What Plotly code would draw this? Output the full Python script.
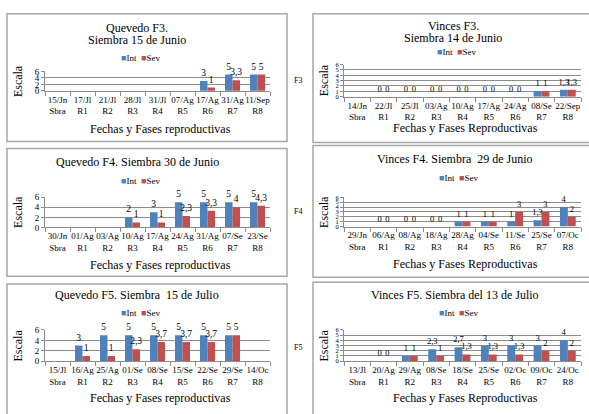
import plotly.graph_objects as go

W, H = 589, 414
INT_COLOR = "#4F81BD"
SEV_COLOR = "#C0504D"
GRID = "#8C8C8C"
FONT = "Liberation Serif"

phases = ["Sbra", "R1", "R2", "R3", "R4", "R5", "R6", "R7", "R8"]

# Quevedo F3 - siembra 15 de junio
q3_dates = ["15/Jn", "17/Jl", "21/Jl", "28/Jl", "31/Jl", "07/Ag", "17/Ag", "31/Ag", "11/Sep"]
q3_int = [None, None, None, None, None, None, 3, 5, 5]
q3_sev = [None, None, None, None, None, None, 1, 3.3, 5]

# Vinces F3 - siembra 14 de junio
v3_dates = ["14/Jn", "22/Jl", "25/Jl", "03/Ag", "10/Ag", "17/Ag", "24/Ag", "08/Se", "22/Sep"]
v3_int = [None, 0, 0, 0, 0, 0, 0, 1, 1.3]
v3_sev = [None, 0, 0, 0, 0, 0, 0, 1, 1.3]

# Quevedo F4 - siembra 30 de junio
q4_dates = ["30/Jn", "01/Ag", "03/Ag", "10/Ag", "17/Ag", "24/Ag", "31/Ag", "07/Se", "23/Se"]
q4_int = [None, None, None, 2, 3, 5, 5, 5, 5]
q4_sev = [None, None, None, 1, 1, 2.3, 3.3, 4, 4.3]

# Vinces F4 - siembra 29 de junio
v4_dates = ["29/Jn", "06/Ag", "08/Ag", "18/Ag", "28/Ag", "04/Se", "11/Se", "25/Se", "07/Oc"]
v4_int = [None, 0, 0, 0, 1, 1, 1, 1.3, 4]
v4_sev = [None, 0, 0, 0, 1, 1, 3, 3, 2]

# Quevedo F5 - siembra 15 de julio
q5_dates = ["15/Jl", "16/Ag", "25/Ag", "01/Se", "08/Se", "15/Se", "22/Se", "29/Se", "14/Oc"]
q5_int = [None, 3, 5, 5, 5, 5, 5, 5, None]
q5_sev = [None, 1, 1, 2.3, 3.7, 3.7, 3.7, 5, None]

# Vinces F5 - siembra del 13 de julio
v5_dates = ["13/Jl", "20/Ag", "29/Ag", "08/Se", "18/Se", "25/Se", "02/Oc", "09/Oc", "24/Oc"]
v5_int = [None, 0, 1, 2.3, 2.7, 3, 3, 3, 4]
v5_sev = [None, 0, 1, 1, 1.3, 1.3, 1.3, 2, 2]

row_labels = ["F3", "F4", "F5"]


def fmt(v):
    if v is None:
        return ""
    s = ("%g" % v)
    return s.replace(".", ",")


def px_x(x):
    return x / W


def px_y(y):
    return 1 - y / H


# Panel layout (pixel geometry of each chart); titles are lists of (text, y)
panels = [
    dict(title=[("Quevedo F3.", 24), ("Siembra 15 de Junio", 36)], dates=q3_dates,
         vi=q3_int, vs=q3_sev, xtitle="Fechas y Fases reproductivas",
         x0=45, x1=270, ytop=68, ybot=88, tx=137, ly=54, xty=127, ey=78,
         step=2, tickfs=9, lblfs=9.5, box=(7, 9, 287, 140)),
    dict(title=[("Vinces F3.", 22), ("Siembra 14 de Junio", 34)], dates=v3_dates,
         vi=v3_int, vs=v3_sev, xtitle="Fechas y Fases Reproductivas",
         x0=344, x1=581, ytop=61, ybot=94, tx=453, ly=48, xty=126, ey=77,
         step=1, tickfs=6.5, lblfs=8.5, box=(313, 9, 596, 141)),
    dict(title=[("Quevedo F4. Siembra 30 de Junio", 161)], dates=q4_dates,
         vi=q4_int, vs=q4_sev, xtitle="Fechas y Fases reproductivas",
         x0=45, x1=270, ytop=197, ybot=228, tx=137, ly=180, xty=266, ey=212,
         step=2, tickfs=9, lblfs=9.5, box=(7, 147, 287, 278)),
    dict(title=[("Vinces F4. Siembra  29 de Junio", 158)], dates=v4_dates,
         vi=v4_int, vs=v4_sev, xtitle="Fechas y Fases Reproductivas",
         x0=344, x1=581, ytop=197, ybot=227, tx=455, ly=177, xty=265, ey=212,
         step=1, tickfs=6.5, lblfs=8.5, box=(313, 144, 596, 279)),
    dict(title=[("Quevedo F5. Siembra  15 de Julio", 297)], dates=q5_dates,
         vi=q5_int, vs=q5_sev, xtitle="Fechas y Fases reproductivas",
         x0=45, x1=270, ytop=333, ybot=365, tx=137, ly=316, xty=403, ey=349,
         step=2, tickfs=9, lblfs=9.5, box=(7, 286, 287, 420)),
    dict(title=[("Vinces F5. Siembra del 13 de Julio", 297)], dates=v5_dates,
         vi=v5_int, vs=v5_sev, xtitle="Fechas y Fases Reproductivas",
         x0=344, x1=581, ytop=333, ybot=365, tx=455, ly=316, xty=403, ey=349,
         step=1, tickfs=6.5, lblfs=8.5, box=(313, 284, 596, 420)),
]

fig = go.Figure()
annotations = []
shapes = []
layout_axes = {}

for i, p in enumerate(panels, start=1):
    xa = "x" if i == 1 else f"x{i}"
    ya = "y" if i == 1 else f"y{i}"
    cats = [f"{d}<br>{ph}" for d, ph in zip(p["dates"], phases)]
    for name, vals, color in (("Int", p["vi"], INT_COLOR), ("Sev", p["vs"], SEV_COLOR)):
        fig.add_trace(go.Bar(
            x=cats, y=vals, name=name, marker=dict(color=color, line=dict(width=0)),
            text=[fmt(v) for v in vals], textposition="outside", constraintext="none",
            textfont=dict(family=FONT, size=p["lblfs"], color="black"),
            cliponaxis=False, showlegend=False, xaxis=xa, yaxis=ya,
        ))
    kx = "xaxis" if i == 1 else f"xaxis{i}"
    ky = "yaxis" if i == 1 else f"yaxis{i}"
    layout_axes[kx] = dict(
        domain=[px_x(p["x0"]), px_x(p["x1"])], anchor=ya, type="category",
        range=[-0.5, 8.5], showline=True, linecolor=GRID, linewidth=1,
        ticks="outside", tickson="boundaries", ticklen=4, tickcolor=GRID,
        showgrid=False, tickfont=dict(family=FONT, size=9, color="black"),
        tickangle=0, fixedrange=True,
    )
    layout_axes[ky] = dict(
        domain=[px_y(p["ybot"]), px_y(p["ytop"])], anchor=xa, range=[0, 6],
        tickmode="array", tickvals=list(range(0, 7, p["step"])),
        showgrid=True, gridcolor=GRID, gridwidth=1, zeroline=False,
        showline=True, linecolor=GRID, linewidth=1, ticks="outside",
        ticklen=3, tickcolor=GRID, tickfont=dict(family=FONT, size=p["tickfs"], color="black"),
        fixedrange=True,
    )
    # chart frame
    bx0, by0, bx1, by1 = p["box"]
    shapes.append(dict(type="rect", xref="paper", yref="paper",
                       x0=px_x(bx0), x1=px_x(bx1), y0=px_y(by1), y1=px_y(by0),
                       line=dict(color="#A6A6A6", width=1.5), fillcolor="rgba(0,0,0,0)",
                       layer="below"))
    # title lines
    for line, ty in p["title"]:
        annotations.append(dict(text=line, x=px_x(p["tx"]), y=px_y(ty),
                                xref="paper", yref="paper", showarrow=False,
                                xanchor="center", yanchor="middle",
                                font=dict(family=FONT, size=12, color="black")))
    # legend
    legend_text = (f'<span style="color:{INT_COLOR}">■</span>Int  '
                   f'<span style="color:{SEV_COLOR}">■</span>Sev')
    annotations.append(dict(text=legend_text, x=px_x(p["tx"] + 3), y=px_y(p["ly"]),
                            xref="paper", yref="paper", showarrow=False,
                            xanchor="center", yanchor="middle",
                            font=dict(family=FONT, size=9, color="black")))
    # axis titles
    annotations.append(dict(text=p["xtitle"], x=px_x((p["x0"] + p["x1"]) / 2 + 3),
                            y=px_y(p["xty"]), xref="paper", yref="paper",
                            showarrow=False, xanchor="center", yanchor="middle",
                            font=dict(family=FONT, size=12, color="black")))
    annotations.append(dict(text="Escala", x=px_x(p["box"][0] + 11), y=px_y(p["ey"]),
                            xref="paper", yref="paper", showarrow=False, textangle=-90,
                            xanchor="center", yanchor="middle",
                            font=dict(family=FONT, size=12, color="black")))

# row labels between the two columns
for lbl, yy in zip(row_labels, [77, 212, 351]):
    annotations.append(dict(text=lbl, x=px_x(298), y=px_y(yy), xref="paper", yref="paper",
                            showarrow=False, xanchor="center", yanchor="middle",
                            font=dict(family=FONT, size=8, color="black")))

fig.update_layout(
    width=W, height=H, margin=dict(l=0, r=0, t=0, b=0),
    paper_bgcolor="white", plot_bgcolor="white",
    barmode="group", bargap=0.4, bargroupgap=0,
    showlegend=False, annotations=annotations, shapes=shapes,
    font=dict(family=FONT),
    **layout_axes,
)

fig.write_html("out.html")
